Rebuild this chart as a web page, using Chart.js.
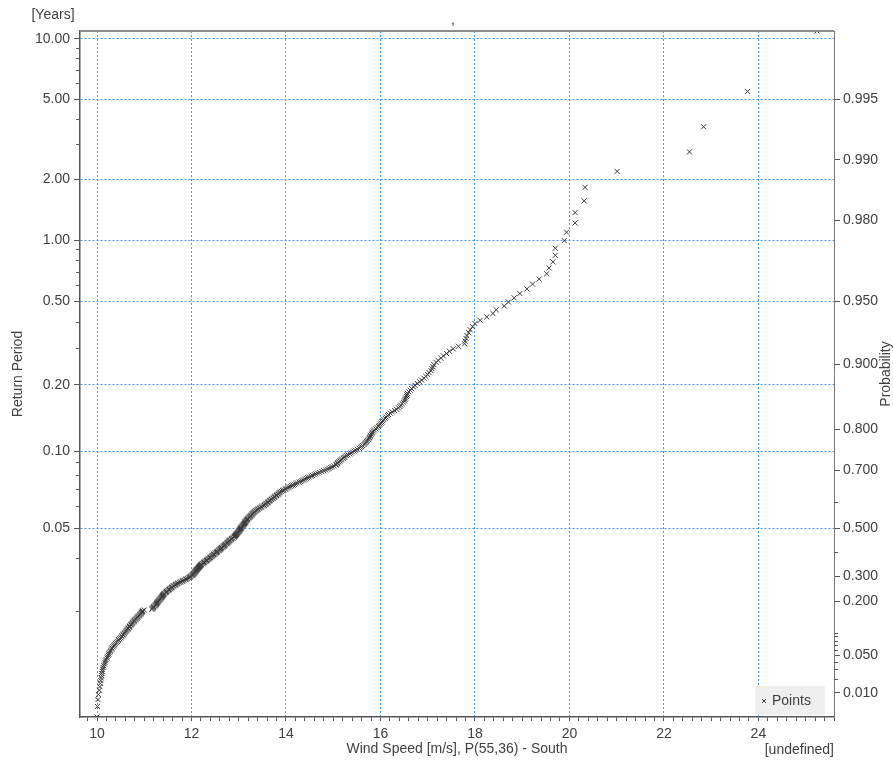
<!DOCTYPE html>
<html>
<head>
<meta charset="utf-8">
<title>Return Period - Wind Speed</title>
<script src="https://cdn.jsdelivr.net/npm/chart.js@4.4.1/dist/chart.umd.min.js"></script>
<style>
  html, body { margin: 0; padding: 0; background: #fff; }
</style>
</head>
<body>
<canvas id="chart" width="893" height="760"></canvas>
<script>
// wind speed of every event [m/s], ranked from the largest (rank 1) down
const windSpeed = [
  25.24, 23.77, 22.84, 22.54, 21.01, 20.33, 20.31, 20.12, 20.12, 19.94,
  19.89, 19.70, 19.70, 19.65, 19.57, 19.52, 19.36, 19.22, 19.10, 18.95,
  18.83, 18.71, 18.62, 18.45, 18.38, 18.25, 18.11, 18.00, 17.95, 17.90,
  17.87, 17.83, 17.81, 17.79, 17.78, 17.65, 17.54, 17.46, 17.40, 17.33,
  17.28, 17.22, 17.18, 17.13, 17.11, 17.09, 17.07, 17.03, 17.00, 16.96,
  16.92, 16.87, 16.83, 16.78, 16.73, 16.70, 16.66, 16.63, 16.60, 16.57,
  16.56, 16.55, 16.53, 16.52, 16.51, 16.49, 16.46, 16.43, 16.41, 16.38,
  16.34, 16.30, 16.25, 16.21, 16.17, 16.15, 16.12, 16.10, 16.07, 16.05,
  16.03, 16.01, 15.99, 15.97, 15.96, 15.93, 15.90, 15.87, 15.85, 15.83,
  15.82, 15.81, 15.79, 15.78, 15.77, 15.76, 15.74, 15.72, 15.71, 15.69,
  15.67, 15.65, 15.62, 15.60, 15.58, 15.55, 15.51, 15.47, 15.44, 15.41,
  15.38, 15.35, 15.31, 15.28, 15.25, 15.23, 15.21, 15.18, 15.16, 15.14,
  15.12, 15.10, 15.09, 15.07, 15.06, 15.02, 14.98, 14.95, 14.91, 14.88,
  14.84, 14.80, 14.76, 14.71, 14.67, 14.63, 14.60, 14.56, 14.53, 14.49,
  14.46, 14.43, 14.40, 14.37, 14.34, 14.31, 14.28, 14.24, 14.21, 14.18,
  14.15, 14.12, 14.09, 14.06, 14.03, 14.00, 13.98, 13.95, 13.93, 13.90,
  13.88, 13.86, 13.85, 13.83, 13.81, 13.80, 13.78, 13.76, 13.75, 13.73,
  13.71, 13.69, 13.67, 13.66, 13.64, 13.62, 13.61, 13.59, 13.57, 13.56,
  13.54, 13.52, 13.49, 13.47, 13.45, 13.43, 13.41, 13.39, 13.38, 13.36,
  13.34, 13.33, 13.31, 13.30, 13.29, 13.28, 13.27, 13.25, 13.24, 13.23,
  13.22, 13.21, 13.19, 13.18, 13.17, 13.16, 13.15, 13.14, 13.14, 13.13,
  13.12, 13.11, 13.10, 13.09, 13.08, 13.07, 13.06, 13.05, 13.05, 13.04,
  13.03, 13.02, 13.01, 13.01, 13.00, 12.99, 12.98, 12.97, 12.96, 12.95,
  12.94, 12.93, 12.92, 12.91, 12.90, 12.88, 12.87, 12.85, 12.84, 12.82,
  12.81, 12.80, 12.79, 12.77, 12.76, 12.75, 12.74, 12.72, 12.71, 12.70,
  12.69, 12.67, 12.66, 12.64, 12.63, 12.62, 12.61, 12.59, 12.58, 12.57,
  12.55, 12.54, 12.53, 12.51, 12.50, 12.48, 12.47, 12.45, 12.44, 12.43,
  12.42, 12.40, 12.39, 12.37, 12.36, 12.35, 12.33, 12.32, 12.30, 12.29,
  12.27, 12.26, 12.24, 12.23, 12.21, 12.20, 12.19, 12.18, 12.17, 12.16,
  12.15, 12.14, 12.13, 12.12, 12.11, 12.10, 12.09, 12.08, 12.08, 12.07,
  12.06, 12.05, 12.04, 12.03, 12.02, 12.00, 11.98, 11.97, 11.95, 11.94,
  11.91, 11.89, 11.87, 11.84, 11.82, 11.80, 11.77, 11.75, 11.72, 11.70,
  11.68, 11.66, 11.65, 11.63, 11.61, 11.59, 11.58, 11.56, 11.55, 11.53,
  11.52, 11.50, 11.49, 11.47, 11.46, 11.45, 11.43, 11.42, 11.41, 11.40,
  11.39, 11.38, 11.37, 11.36, 11.35, 11.34, 11.33, 11.32, 11.31, 11.30,
  11.29, 11.28, 11.27, 11.26, 11.25, 11.24, 11.23, 11.22, 11.20, 11.19,
  11.18, 11.17, 11.16, 11.00, 10.97, 10.96, 10.95, 10.94, 10.93, 10.92,
  10.91, 10.89, 10.88, 10.86, 10.85, 10.84, 10.82, 10.81, 10.79, 10.78,
  10.77, 10.75, 10.74, 10.73, 10.72, 10.70, 10.69, 10.68, 10.66, 10.65,
  10.64, 10.62, 10.61, 10.59, 10.58, 10.56, 10.55, 10.53, 10.52, 10.50,
  10.48, 10.46, 10.45, 10.43, 10.41, 10.39, 10.37, 10.36, 10.34, 10.32,
  10.31, 10.29, 10.28, 10.26, 10.25, 10.24, 10.22, 10.21, 10.19, 10.18,
  10.17, 10.16, 10.14, 10.13, 10.12, 10.11, 10.10, 10.10, 10.09, 10.08,
  10.07, 10.06, 10.05, 10.03, 10.02, 10.01, 10.00
];

// one sample every 1/40 year: return period T <-> probability p = 1 - dt / T
const sampleYears = 0.025;

const xMin = 9.64;
const xMax = 25.6;
const xMajorTicks = [10, 12, 14, 16, 18, 20, 22, 24];
const xMinorStep = 0.2;

const periodTicks = [10, 5, 2, 1, 0.5, 0.2, 0.1, 0.05];
const periodLabels = ['10.00', '5.00', '2.00', '1.00', '0.50', '0.20', '0.10', '0.05'];
const periodMinorTicks = [9, 8, 7, 6, 4, 3, 0.9, 0.8, 0.7, 0.6, 0.4, 0.3, 0.09, 0.08, 0.07, 0.06, 0.04, 0.03];

const probTicks = [0.995, 0.99, 0.98, 0.95, 0.9, 0.8, 0.7, 0.5, 0.3, 0.2, 0.05, 0.01];
const probLabels = ['0.995', '0.990', '0.980', '0.950', '0.900', '0.800', '0.700', '0.500', '0.300', '0.200', '0.050', '0.010'];
const probMinorTicks = [0.6, 0.4, 0.1, 0.09, 0.08, 0.07, 0.06, 0.04, 0.03, 0.02];

const TEXT = '#404040';
const AXIS = '#555555';
const GRID = '#3d9bff';
const MARK = '#3a3a3a';
const FONT = { family: '"Liberation Sans", Arial, sans-serif', size: 14 };

// Gumbel reduced variate: the vertical axis is linear in this
function gumbel(p) {
    return -Math.log(-Math.log(p));
}

function periodToY(T) {
    return gumbel(1 - sampleYears / T);
}

// Weibull plotting position for rank k of n: p = 1 - k / (n + 1)
const n = windSpeed.length;
const points = windSpeed.map((w, i) => ({ x: w, y: gumbel(1 - (i + 1) / (n + 1)) }));
const yMin = gumbel(1 / (n + 1));
const yMax = gumbel(n / (n + 1));

const isMajorX = v => xMajorTicks.some(t => Math.abs(t - v) < 1e-6);

const decorations = {
    id: 'decorations',
    afterDraw(chart) {
        const { ctx, chartArea: area, scales } = chart;
        ctx.save();

        // top frame line
        ctx.strokeStyle = '#8a8a8a';
        ctx.lineWidth = 2;
        ctx.beginPath();
        ctx.moveTo(area.left, area.top);
        ctx.lineTo(area.right, area.top);
        ctx.stroke();

        // short minor ticks
        ctx.strokeStyle = AXIS;
        ctx.lineWidth = 1;
        ctx.beginPath();
        periodMinorTicks.forEach(T => {
            const y = Math.round(scales.y.getPixelForValue(periodToY(T))) + 0.5;
            ctx.moveTo(area.left - 4, y);
            ctx.lineTo(area.left, y);
        });
        probMinorTicks.forEach(p => {
            const y = Math.round(scales.y2.getPixelForValue(gumbel(p))) + 0.5;
            ctx.moveTo(area.right, y);
            ctx.lineTo(area.right + 4, y);
        });
        ctx.stroke();

        // legend box, bottom right inside the plot
        const ds = chart.data.datasets[0];
        const bx = area.right - 79, by = area.bottom - 31;
        ctx.fillStyle = '#efefef';
        ctx.fillRect(bx, by, 70, 29);
        ctx.strokeStyle = ds.borderColor;
        Chart.helpers.drawPoint(ctx, {
            pointStyle: ds.pointStyle, radius: 2.8, borderWidth: 1
        }, bx + 9, by + 15);
        ctx.fillStyle = TEXT;
        ctx.font = '14px ' + FONT.family;
        ctx.textBaseline = 'middle';
        ctx.textAlign = 'left';
        ctx.fillText(ds.label, bx + 17, by + 15);

        // free texts
        ctx.textAlign = 'center';
        ctx.fillText(',', 453, 20);
        ctx.fillText('[Years]', 53, 15);
        ctx.textAlign = 'right';
        ctx.fillText('[undefined]', area.right, 750);

        ctx.translate(886, (area.top + area.bottom) / 2);
        ctx.rotate(-Math.PI / 2);
        ctx.textAlign = 'center';
        ctx.fillText('Probability', 0, 0);
        ctx.restore();
    }
};

new Chart(document.getElementById('chart'), {
    type: 'scatter',
    data: {
        datasets: [{
            label: 'Points',
            data: points,
            showLine: false,
            pointStyle: 'crossRot',
            pointRadius: 3.6,
            pointBorderWidth: 1,
            borderColor: MARK,
            backgroundColor: MARK
        }]
    },
    options: {
        responsive: false,
        animation: false,
        layout: { padding: { top: 31, left: 0, right: 0, bottom: 0 } },
        plugins: {
            legend: { display: false },
            tooltip: { enabled: false }
        },
        scales: {
            x: {
                type: 'linear',
                min: xMin,
                max: xMax,
                afterBuildTicks(scale) {
                    const ticks = [];
                    for (let v = 9.8; v <= xMax + 1e-6; v += xMinorStep) {
                        ticks.push({ value: Math.round(v * 10) / 10 });
                    }
                    scale.ticks = ticks;
                },
                afterFit(scale) { scale.height = 43; },
                ticks: {
                    autoSkip: false,
                    maxRotation: 0,
                    padding: 5,
                    color: TEXT,
                    font: FONT,
                    callback: v => isMajorX(v) ? String(v) : ''
                },
                grid: {
                    color: c => (c.tick && isMajorX(c.tick.value)) ? GRID : 'rgba(0,0,0,0)',
                    tickColor: AXIS,
                    tickLength: 4
                },
                border: { color: AXIS, width: 1.5, dash: [2, 2] },
                title: {
                    display: true,
                    text: 'Wind Speed [m/s], P(55,36) - South',
                    color: TEXT,
                    font: FONT,
                    padding: { top: 0, bottom: 2 }
                }
            },
            y: {
                type: 'linear',
                position: 'left',
                min: yMin,
                max: yMax,
                afterBuildTicks(scale) {
                    scale.ticks = periodTicks.map(T => ({ value: periodToY(T) }));
                },
                afterFit(scale) { scale.width = 80; },
                ticks: {
                    autoSkip: false,
                    padding: 4,
                    color: TEXT,
                    font: FONT,
                    callback: (v, i) => periodLabels[i]
                },
                grid: { color: GRID, tickColor: AXIS, tickLength: 6 },
                border: { color: AXIS, width: 1.5, dash: [2, 2] },
                title: {
                    display: true,
                    text: 'Return Period',
                    color: TEXT,
                    font: FONT,
                    padding: { top: 10, bottom: 0 }
                }
            },
            y2: {
                type: 'linear',
                position: 'right',
                min: yMin,
                max: yMax,
                afterBuildTicks(scale) {
                    scale.ticks = probTicks.map(p => ({ value: gumbel(p) }));
                },
                afterFit(scale) { scale.width = 59; },
                ticks: {
                    autoSkip: false,
                    padding: 3,
                    color: TEXT,
                    font: FONT,
                    callback: (v, i) => probLabels[i]
                },
                grid: { drawOnChartArea: false, tickColor: AXIS, tickLength: 6 },
                border: { color: '#777777', width: 1 }
            }
        }
    },
    plugins: [decorations]
});
</script>
</body>
</html>
